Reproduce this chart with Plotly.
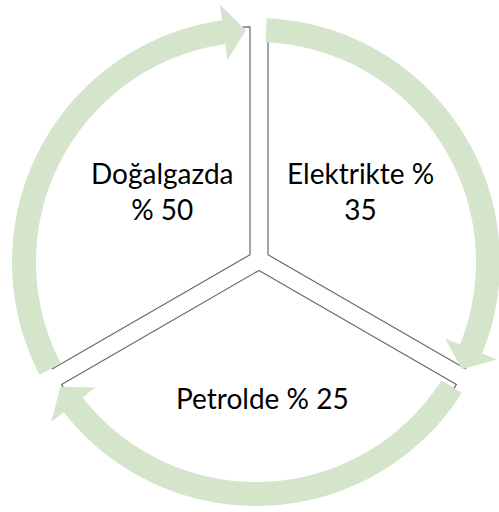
import numpy as np
import plotly.graph_objects as go

# ---- data ----
categories = ["Elektrikte", "Petrolde", "Doğalgazda"]
shares = [35, 25, 50]
label_text = ["Elektrikte %<br>35", "Petrolde % 25", "Doğalgazda<br>% 50"]
slice_weights = [1, 1, 1]  # the diagram draws three equal segments

# ---- layout constants (pixels) ----
W, H = 499, 512
PIE_CX, PIE_CY, PIE_R = 259, 260, 228
PULL_PX = 10.4
RING_CX, RING_CY = 256, 262
R_IN, R_OUT = 220, 244
HEAD_HALF = 28
HEAD_LEN_DEG = 5.5
GREEN = "rgb(213,229,204)"
EDGE = "rgb(105,105,105)"
FONT = "Lato"
FS = 28
# label centers in pixels
label_pos = [(360, 191), (262, 398), (162, 191)]


def px(x):
    return x / W


def py(y):
    return 1 - y / H


pull = PULL_PX / PIE_R
half = PIE_R * (1 + pull)

fig = go.Figure()
fig.add_trace(go.Pie(
    labels=categories,
    values=slice_weights,
    sort=False,
    direction="clockwise",
    rotation=0,
    pull=[pull] * len(categories),
    marker=dict(colors=["white"] * len(categories), line=dict(color=EDGE, width=1.2)),
    textinfo="none",
    hoverinfo="skip",
    showlegend=False,
    domain=dict(x=[px(PIE_CX - half), px(PIE_CX + half)],
                y=[py(PIE_CY + half), py(PIE_CY - half)]),
))


def pt(r, a_deg):
    a = np.radians(a_deg)
    return RING_CX + r * np.sin(a), RING_CY - r * np.cos(a)


def arrow_path(s, e):
    base = e - HEAD_LEN_DEG
    rm = (R_IN + R_OUT) / 2
    pts = []
    for a in np.linspace(s, base, 80):
        pts.append(pt(R_OUT, a))
    pts.append(pt(rm + HEAD_HALF, base))
    pts.append(pt(rm, e))
    pts.append(pt(rm - HEAD_HALF, base))
    for a in np.linspace(base, s, 80):
        pts.append(pt(R_IN, a))
    d = "M " + " L ".join(f"{px(x):.5f},{py(y):.5f}" for x, y in pts) + " Z"
    return d


n = len(categories)
for k in range(n):
    s = 120 * k + 2.5
    e = 120 * (k + 1) - 2.5
    fig.add_shape(type="path", path=arrow_path(s, e), xref="paper", yref="paper",
                  fillcolor=GREEN, line=dict(width=0), layer="above")

for txt, (x, y) in zip(label_text, label_pos):
    fig.add_annotation(text=txt, x=px(x), y=py(y), xref="paper", yref="paper",
                       showarrow=False, xanchor="center", yanchor="middle",
                       font=dict(family=FONT, size=FS, color="black"))

fig.update_layout(width=W, height=H, margin=dict(l=0, r=0, t=0, b=0),
                  paper_bgcolor="white", plot_bgcolor="white")

fig.write_html("out.html", config={"displayModeBar": False},
               post_script="document.body.style.margin='0';")
